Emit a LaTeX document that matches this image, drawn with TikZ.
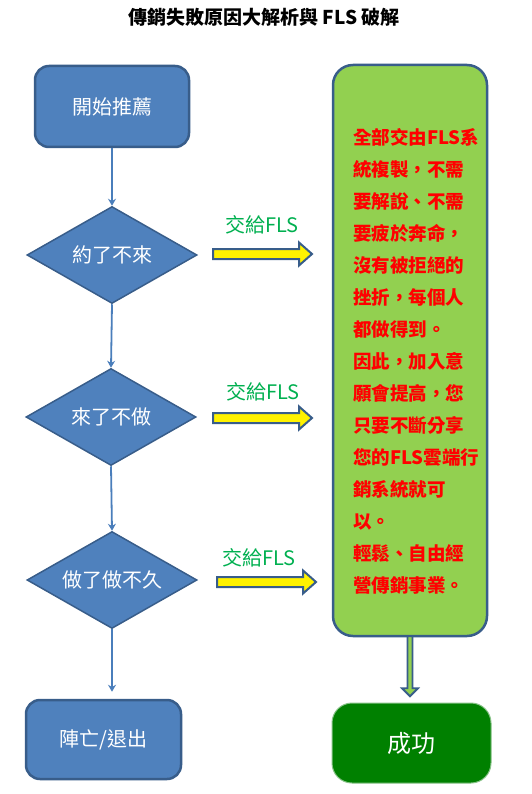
\documentclass[tikz,border=0pt]{standalone}
\usepackage{fontspec}
\setmainfont{Noto Sans CJK TC}
\usetikzlibrary{shapes.geometric,arrows.meta}
\definecolor{bfill}{HTML}{4F81BD}
\definecolor{bdraw}{HTML}{385D8A}
\definecolor{lgreen}{HTML}{92D050}
\definecolor{dgreen}{HTML}{008000}
\definecolor{gedge}{HTML}{86C286}
\definecolor{lblgreen}{HTML}{00B050}
\definecolor{linkblue}{HTML}{4A7EBB}
\definecolor{txtred}{HTML}{FF0000}
\begin{document}
\begin{tikzpicture}[x=1pt,y=-1pt,
 box/.style={draw=bdraw, fill=bfill, line width=2.5pt, rounded corners=14pt, text=white, font=\fontsize{20}{24}\selectfont, inner sep=0pt},
 decision/.style={diamond, draw=bdraw, fill=bfill, line width=1.5pt, aspect=1.75, inner sep=0pt, minimum width=170pt, minimum height=97pt, text=white, font=\fontsize{20}{24}\selectfont},
 link/.style={draw=linkblue, line width=1.8pt, -{Stealth[length=7pt,width=8pt]}},
 handoff/.style={text=lblgreen, font=\fontsize{20}{24}\selectfont, inner sep=0pt},
 yarrow/.style={draw=bdraw, fill=yellow, line width=2pt, line join=miter},
 garrow/.style={draw=bdraw, fill=lgreen, line width=1.8pt, line join=miter},
 pics/handarrow/.style={code={\draw[yarrow] (0,-5) -- (86,-5) -- (86,-11.5) -- (99,0) -- (86,11.5) -- (86,5) -- (0,5) -- cycle;}},
 pics/downarrow/.style={code={\draw[garrow] (-2.5,-1) -- (-2.5,51) -- (-8,51) -- (0,59) -- (8,51) -- (2.5,51) -- (2.5,-1) -- cycle;}},
]
\path[fill=white] (0,0) rectangle (532,794);

\node[font=\bfseries\fontsize{19}{23}\selectfont, inner sep=0pt] (title) at (264,17) {傳銷失敗原因大解析與 FLS 破解};

\node[box, minimum width=154pt, minimum height=81pt] (start) at (112,106.5) {開始推薦};
\node[decision] (d1) at (112,255) {約了不來};
\node[decision] (d2) at (111,417) {來了不做};
\node[decision] (d3) at (112,580) {做了做不久};
\node[box, minimum width=155pt, minimum height=79pt] (quit) at (103.5,739.5) {陣亡/退出};

\draw[link] (start.south) -- (d1.north);
\draw[link] (d1.south) -- (d2.north);
\draw[link] (d2.south) -- (d3.north);
\draw[link, shorten >=7pt] (d3.south) -- (d3.south |- quit.north);

\node[draw=bdraw, fill=lgreen, line width=2.5pt, rounded corners=20pt, minimum width=154pt, minimum height=571pt, inner sep=0pt] (fls) at (410,350.5) {};
\node[text=txtred, font=\bfseries\fontsize{18.5}{32}\selectfont, align=left, anchor=west, inner sep=0pt] (flstext) at (353,361) {全部交由FLS系\\統複製，不需\\要解說、不需\\要疲於奔命，\\沒有被拒絕的\\挫折，每個人\\都做得到。\\因此，加入意\\願會提高，您\\只要不斷分享\\您的FLS雲端行\\銷系統就可\\以。\\輕鬆、自由經\\營傳銷事業。};

\node[handoff] (h1) at (262,225) {交給FLS};
\node[handoff] (h2) at (263,392) {交給FLS};
\node[handoff] (h3) at (259,558) {交給FLS};
\pic (a1) at (213,254) {handarrow};
\pic (a2) at (213,418) {handarrow};
\pic (a3) at (217,582) {handarrow};

\pic (a4) at (fls.south) {downarrow};
\node[draw=gedge, fill=dgreen, line width=1pt, rounded corners=20pt, minimum width=159pt, minimum height=80pt, text=white, font=\fontsize{24}{28}\selectfont] (succ) at (411.5,743) {成功};
\end{tikzpicture}
\end{document}
